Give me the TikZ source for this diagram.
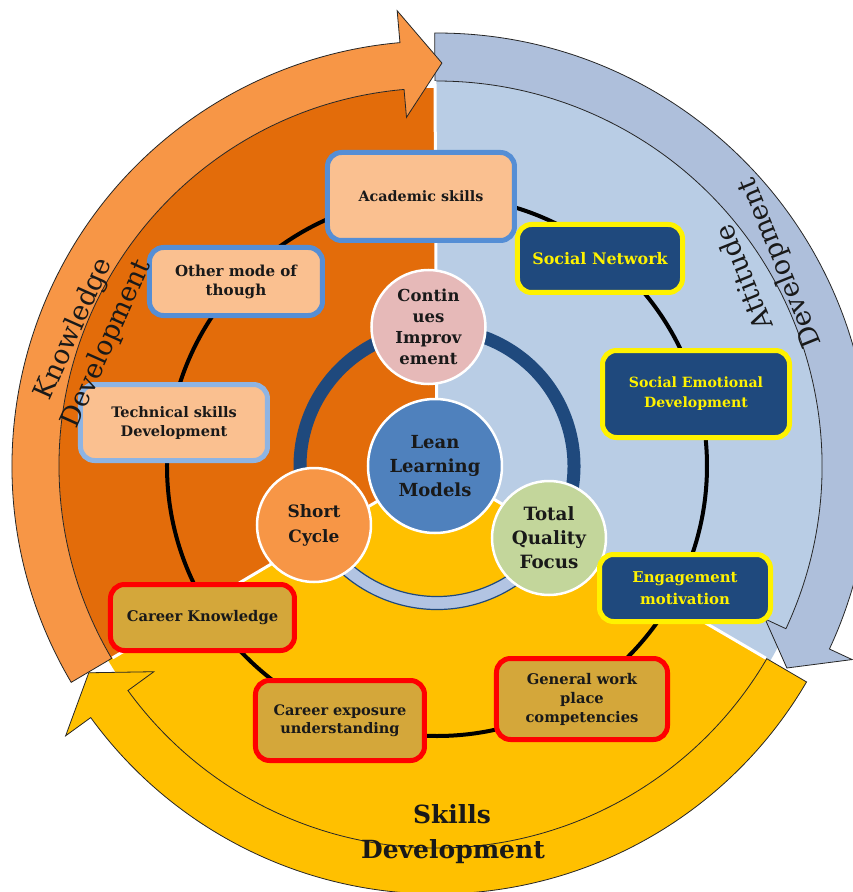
\documentclass[tikz,border=0pt]{standalone}
\usepackage{fontspec}
\setmainfont{DejaVu Serif}
\definecolor{dkorange}{RGB}{227,108,10}
\definecolor{ltorange}{RGB}{247,150,70}
\definecolor{skyfill}{RGB}{185,205,229}
\definecolor{skyband}{RGB}{174,191,219}
\definecolor{gold}{RGB}{255,192,0}
\definecolor{navy}{RGB}{31,73,125}
\definecolor{peach}{RGB}{250,192,144}
\definecolor{bordblue}{RGB}{85,142,213}
\definecolor{bordlight}{RGB}{142,180,227}
\definecolor{mustard}{RGB}{212,167,58}
\definecolor{leanblue}{RGB}{79,129,189}
\definecolor{pinkc}{RGB}{230,185,184}
\definecolor{greenc}{RGB}{195,214,155}
\definecolor{ringlight}{RGB}{178,196,226}
\definecolor{inktext}{RGB}{25,25,25}
\begin{document}
\begin{tikzpicture}[x=1pt,y=1pt,
  fs/.style 2 args={font=\bfseries\fontsize{#1}{#2}\selectfont},
  roundbox/.style={rounded corners=14pt, line width=5pt, align=center, inner sep=2pt},
  peachbox/.style={roundbox, draw=bordblue, fill=peach, text=inktext},
  navybox/.style={roundbox, draw=yellow, fill=navy, text=yellow},
  goldbox/.style={roundbox, draw=red, fill=mustard, text=inktext},
  hub/.style={circle, draw=white, line width=2.5pt, align=center, text=inktext, inner sep=0pt},
  arrowshape/.style={draw=black!85, line width=0.8pt},
  bandlabel/.style={text=inktext, inner sep=0pt, align=center}
]
\useasboundingbox (-437,-426) rectangle (416,466);
\fill[white] (-437,-426) rectangle (416,466);
\clip (-437,-426) rectangle (416,466);

% sectors
\fill[dkorange] (0,0) -- (90.3:378) arc[start angle=90.3, end angle=210.6, radius=378] -- cycle;
\fill[skyfill] (0,0) -- (-30.3:386) arc[start angle=-30.3, end angle=90.3, radius=386] -- cycle;
\fill[gold] (0,0) -- (210.6:382) arc[start angle=210.6, end angle=329.7, radius=382] -- cycle;

% circular arrows
\draw[arrowshape, fill=gold] (-30.3:428) arc[start angle=-30.3, end angle=-144, radius=428]
  -- (-144:459) -- (-149.3:405) -- (-144:350) -- (-144:382)
  arc[start angle=-144, end angle=-30.3, radius=382] -- cycle;
\draw[arrowshape, fill=skyband] (90.3:433) arc[start angle=90.3, end angle=-25, radius=433]
  -- (-25:458) -- (-30:404) -- (-25:362) -- (-25:385)
  arc[start angle=-25, end angle=90.3, radius=385] -- cycle;
\draw[arrowshape, fill=ltorange] (210.6:425) arc[start angle=210.6, end angle=95, radius=425]
  -- (95:457) -- (89.3:403) -- (95:350) -- (95:378)
  arc[start angle=95, end angle=210.6, radius=378] -- cycle;

% white sector borders
\draw[white, line width=3pt] (0,0) -- (90.3:385) (0,0) -- (210.6:377) (0,0) -- (-30.3:381);

% outer black cycle
\draw[black, line width=4pt] (0,0) circle[radius=270];

% inner ring
\draw[navy, line width=13pt] (-33:137) arc[start angle=-33, end angle=207, radius=137];
\draw[navy, line width=1.2pt, fill=ringlight] (206:143.5) arc[start angle=206, end angle=334, radius=143.5]
  -- (334:130.5) arc[start angle=334, end angle=206, radius=130.5] -- cycle;

% hub circles
\node[hub, fill=leanblue, minimum size=134pt, fs={18}{24}] (lean) at (-2,0) {Lean\\Learning\\Models};
\node[hub, fill=pinkc, minimum size=114pt, fs={16.5}{21}] (cont) at (-8.5,139) {Contin\\ues\\Improv\\ement};
\node[hub, fill=ltorange, minimum size=114pt, fs={17}{25}] (short) at (-123,-59) {Short\\Cycle};
\node[hub, fill=greenc, minimum size=114pt, fs={18.3}{24}] (tqf) at (112,-72) {Total\\Quality\\Focus};

% boxes
\node[peachbox, minimum width=187pt, minimum height=88pt, fs={14.3}{18}] (acad) at (-16,269.5) {Academic skills};
\node[peachbox, minimum width=173pt, minimum height=68pt, fs={15.1}{19}] (other) at (-201,184.5) {Other mode of\\though};
\node[peachbox, draw=bordlight, minimum width=187pt, minimum height=76pt, fs={14.5}{19}] (tech) at (-263,43.5) {Technical skills\\Development};
\node[navybox, minimum width=165pt, minimum height=68pt, fs={15.9}{19}] (socnet) at (163,207.5) {Social Network};
\node[navybox, minimum width=187pt, minimum height=87pt, fs={14.1}{20}] (socemo) at (259,72) {Social Emotional\\Development};
\node[navybox, minimum width=171pt, minimum height=67pt, fs={14.9}{22}] (engage) at (248,-122) {Engagement\\motivation};
\node[goldbox, minimum width=184pt, minimum height=66pt, fs={14.7}{18}] (carknow) at (-234.5,-151.5) {Career Knowledge};
\node[goldbox, minimum width=169pt, minimum height=80pt, fs={14.5}{18}] (carexp) at (-97,-254.5) {Career exposure\\understanding};
\node[goldbox, minimum width=171pt, minimum height=81pt, fs={14.7}{19}] (genwork) at (145,-233) {General work\\place\\competencies};

% band labels
\node[bandlabel, rotate=66, font=\fontsize{27}{36}\selectfont] (knowlbl) at (-346.5,129.5) {Knowledge\\Development};
\node[bandlabel, rotate=112, font=\fontsize{27}{38}\selectfont] (attlbl) at (326,196) {Attitude\\Development};
\node[font=\bfseries\fontsize{25}{30}\selectfont, text=inktext, anchor=base, inner sep=0pt] (skl) at (15,-357) {Skills};
\node[font=\bfseries\fontsize{25}{30}\selectfont, text=inktext, anchor=base, inner sep=0pt] (devs) at (16,-392) {Development};
\end{tikzpicture}
\end{document}
